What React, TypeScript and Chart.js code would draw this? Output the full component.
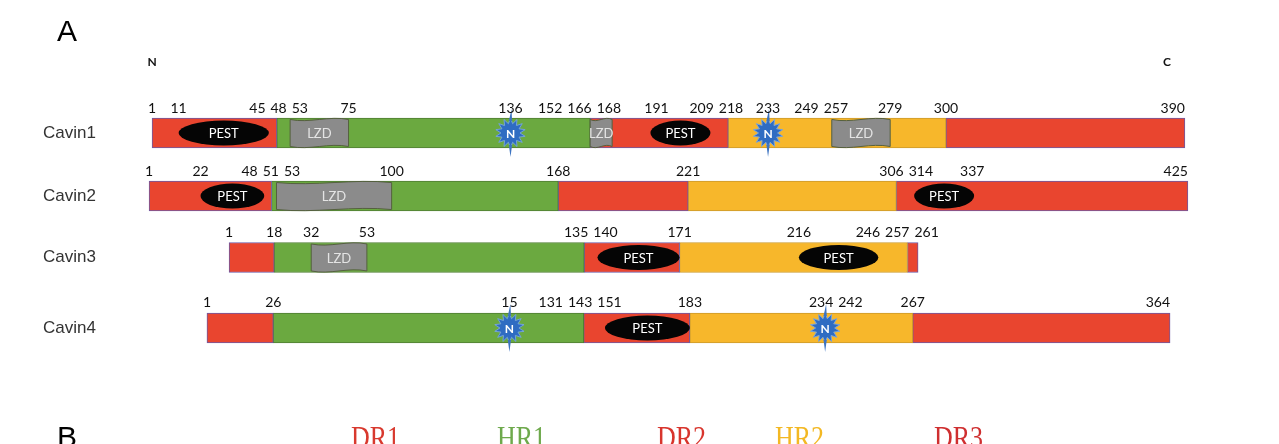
import { useEffect, useRef } from 'react';
import { Chart, registerables } from 'chart.js';

Chart.register(...registerables);

// ---- data -----------------------------------------------------------------

const proteins = ['Cavin1', 'Cavin2', 'Cavin3', 'Cavin4'];
const regionNames = ['DR1', 'HR1', 'DR2', 'HR2', 'DR3'];

// Region boundaries in residues: DR1 | HR1 | DR2 | HR2 | DR3
const cavin1Bounds = [1, 48, 166, 218, 300, 390];
const cavin2Bounds = [1, 51, 168, 221, 306, 425];
const cavin3Bounds = [1, 18, 135, 171, 257, 261];
const cavin4Bounds = [1, 26, 143, 183, 267, 364];

// PEST motifs [start, end]
const cavin1Pest = [[11, 45], [191, 209]];
const cavin2Pest = [[22, 48], [314, 337]];
const cavin3Pest = [[140, 171], [216, 246]];
const cavin4Pest = [[151, 183]];

// Leucine-zipper domains [start, end]
const cavin1Lzd = [[53, 75], [166, 168], [257, 279]];
const cavin2Lzd = [[53, 100]];
const cavin3Lzd = [[32, 53]];
const cavin4Lzd: number[][] = [];

// N-glycosylation sites
const cavin1NSites = [136, 233];
const cavin2NSites: number[] = [];
const cavin3NSites: number[] = [];
const cavin4NSites = [115, 234];

// Residue numbers printed above each bar
const cavin1Marks = [1, 11, 45, 48, 53, 75, 136, 152, 166, 168, 191, 209, 218, 233, 249, 257, 279, 300, 390];
const cavin2Marks = [1, 22, 48, 51, 53, 100, 168, 221, 306, 314, 337, 425];
const cavin3Marks = [1, 18, 32, 53, 135, 140, 171, 216, 246, 257, 261];
const cavin4Marks = [1, 26, 115, 131, 143, 151, 183, 234, 242, 267, 364];
const cavin4MarkText = ['1', '26', '15', '131', '143', '151', '183', '234', '242', '267', '364'];

// ---- layout & style -------------------------------------------------------

const ROW_Y = [0, 0.97, 1.915, 3];
const AXIS_BOUNDS = [
  [-17.1, 398.7],
  [-17.4, 433.2],
  [-46.2, 370.4],
  [-37.8, 378.3],
];
const BAR_H = 30;

const regionFill = ['#E9452F', '#6BA940', '#E9452F', '#F7B72B', '#E9452F'];
const regionEdge = ['#6C5AA6', '#4F7E33', '#6C5AA6', '#CC9A2C', '#6C5AA6'];
const legendColors = ['#D8392E', '#6EA94C', '#D8352D', '#F3B823', '#CF2F30'];
const LEGEND_X = [343, 489, 649, 767, 926];

const rows = [
  { bounds: cavin1Bounds, pest: cavin1Pest, lzd: cavin1Lzd, nSites: cavin1NSites, marks: cavin1Marks, text: null as string[] | null },
  { bounds: cavin2Bounds, pest: cavin2Pest, lzd: cavin2Lzd, nSites: cavin2NSites, marks: cavin2Marks, text: null as string[] | null },
  { bounds: cavin3Bounds, pest: cavin3Pest, lzd: cavin3Lzd, nSites: cavin3NSites, marks: cavin3Marks, text: null as string[] | null },
  { bounds: cavin4Bounds, pest: cavin4Pest, lzd: cavin4Lzd, nSites: cavin4NSites, marks: cavin4Marks, text: cavin4MarkText },
];

const datasets: any[] = [];
rows.forEach((row, r) => {
  for (let i = 0; i < row.bounds.length - 1; i++) {
    datasets.push({
      label: `${proteins[r]} ${regionNames[i]}`,
      data: [{ x: [row.bounds[i], row.bounds[i + 1]], y: ROW_Y[r] }],
      xAxisID: `x${r + 1}`,
      yAxisID: 'y',
      backgroundColor: regionFill[i],
      borderColor: regionEdge[i],
      borderWidth: 1,
      borderSkipped: false,
      barThickness: BAR_H,
      grouped: false,
    });
  }
});

// ---- drawing helpers ------------------------------------------------------

function spreadLabels(desired: number[], widths: number[], gap: number): number[] {
  type Cluster = { idx: number[]; sum: number; width: number };
  const clusters: Cluster[] = [];
  const left = (c: Cluster) => c.sum / c.idx.length - c.width / 2;
  desired.forEach((d, i) => {
    clusters.push({ idx: [i], sum: d, width: widths[i] });
    while (clusters.length > 1) {
      const b = clusters[clusters.length - 1];
      const a = clusters[clusters.length - 2];
      if (left(a) + a.width + gap <= left(b)) break;
      clusters.splice(clusters.length - 2, 2, {
        idx: a.idx.concat(b.idx),
        sum: a.sum + b.sum,
        width: a.width + gap + b.width,
      });
    }
  });
  const out: number[] = new Array(desired.length);
  clusters.forEach((c) => {
    let x = left(c);
    c.idx.forEach((i) => {
      out[i] = x + widths[i] / 2;
      x += widths[i] + gap;
    });
  });
  return out;
}

function wavyBox(ctx: CanvasRenderingContext2D, x0: number, x1: number, top: number, bottom: number) {
  const w = x1 - x0;
  const a = 2.5;
  ctx.beginPath();
  ctx.moveTo(x0, top);
  ctx.bezierCurveTo(x0 + w / 3, top + a * 1.6, x0 + (2 * w) / 3, top - a * 1.6, x1, top);
  ctx.lineTo(x1, bottom);
  ctx.bezierCurveTo(x0 + (2 * w) / 3, bottom - a * 1.6, x0 + w / 3, bottom + a * 1.6, x0, bottom);
  ctx.closePath();
  ctx.fillStyle = '#8B8B8B';
  ctx.fill();
  ctx.strokeStyle = '#55603F';
  ctx.lineWidth = 1;
  ctx.stroke();
}

function star(ctx: CanvasRenderingContext2D, cx: number, cy: number) {
  const spikes = 14;
  ctx.beginPath();
  for (let i = 0; i < spikes * 2; i++) {
    const rad = i % 2 === 0 ? 15 : 9.5;
    const ang = -Math.PI / 2 + (i * Math.PI) / spikes;
    const px = cx + Math.cos(ang) * rad;
    const py = cy + Math.sin(ang) * rad;
    if (i === 0) ctx.moveTo(px, py);
    else ctx.lineTo(px, py);
  }
  ctx.closePath();
  ctx.fillStyle = '#2F6CC2';
  ctx.fill();
  ctx.strokeStyle = 'rgba(120,165,225,0.9)';
  ctx.lineWidth = 1;
  ctx.stroke();
  // long top and bottom rays
  ctx.beginPath();
  ctx.moveTo(cx - 1.6, cy - 12);
  ctx.lineTo(cx + 1, cy - 24);
  ctx.lineTo(cx + 1.6, cy - 12);
  ctx.moveTo(cx - 1.6, cy + 12);
  ctx.lineTo(cx, cy + 24);
  ctx.lineTo(cx + 1.6, cy + 12);
  ctx.fillStyle = '#3D74C2';
  ctx.fill();
  ctx.fillStyle = '#FFFFFF';
  ctx.font = 'bold 12px Lato, "Open Sans", sans-serif';
  ctx.textAlign = 'center';
  ctx.textBaseline = 'middle';
  ctx.fillText('N', cx, cy + 1);
}

const annotations = {
  id: 'domainAnnotations',
  afterDatasetsDraw(chart: any) {
    const ctx: CanvasRenderingContext2D = chart.ctx;
    const yScale = chart.scales.y;
    ctx.save();

    rows.forEach((row, r) => {
      const xs = chart.scales[`x${r + 1}`];
      const cy = yScale.getPixelForValue(ROW_Y[r]);
      const top = cy - BAR_H / 2;
      const bottom = cy + BAR_H / 2;

      // leucine zippers
      row.lzd.forEach(([a, b]) => {
        const x0 = xs.getPixelForValue(a);
        const x1 = Math.max(xs.getPixelForValue(b), x0 + 22);
        wavyBox(ctx, x0, x1, top + 1.5, bottom - 1.5);
        ctx.fillStyle = '#E4E4E4';
        ctx.font = '13px Lato, "Open Sans", sans-serif';
        ctx.textAlign = 'center';
        ctx.textBaseline = 'middle';
        ctx.fillText('LZD', (x0 + x1) / 2, cy + 1);
      });

      // PEST motifs
      row.pest.forEach(([a, b]) => {
        const x0 = xs.getPixelForValue(a);
        const x1 = xs.getPixelForValue(b);
        const rx = Math.max((x1 - x0) / 2, 30);
        const cx = (x0 + x1) / 2;
        ctx.beginPath();
        ctx.ellipse(cx, cy, rx, 12.5, 0, 0, Math.PI * 2);
        ctx.fillStyle = '#050505';
        ctx.fill();
        ctx.fillStyle = '#FFFFFF';
        ctx.font = '13px Lato, "Open Sans", sans-serif';
        ctx.textAlign = 'center';
        ctx.textBaseline = 'middle';
        ctx.fillText('PEST', cx, cy + 1);
      });

      // N-glycosylation sites
      row.nSites.forEach((s) => star(ctx, xs.getPixelForValue(s), cy));

      // residue numbers
      ctx.font = '14px Lato, "Open Sans", sans-serif';
      const texts = row.marks.map((m, i) => (row.text ? row.text[i] : String(m)));
      const widths = texts.map((t) => ctx.measureText(t).width);
      const last = row.marks.length - 1;
      const desired = row.marks.map((m, i) => {
        const p = xs.getPixelForValue(m);
        return i === last ? p - widths[i] / 2 : p;
      });
      const centers = spreadLabels(desired, widths, 5);
      ctx.fillStyle = '#111111';
      ctx.textAlign = 'center';
      ctx.textBaseline = 'middle';
      texts.forEach((t, i) => ctx.fillText(t, centers[i], top - 10));

      // terminus markers over the first protein
      if (r === 0) {
        ctx.font = 'bold 12px Lato, "Open Sans", sans-serif';
        ctx.fillText('N', xs.getPixelForValue(row.bounds[0]), top - 56);
        ctx.fillText('C', xs.getPixelForValue(row.bounds[row.bounds.length - 1]) - 18, top - 56);
      }
    });

    // panel letters
    ctx.fillStyle = '#000000';
    ctx.font = '30px "Liberation Sans", Arial, sans-serif';
    ctx.textAlign = 'left';
    ctx.textBaseline = 'alphabetic';
    ctx.fillText('A', 49, 33);
    ctx.fillText('B', 49, 439);

    // region key
    ctx.font = '26px "Liberation Serif", "Times New Roman", serif';
    regionNames.forEach((name, i) => {
      ctx.save();
      ctx.translate(LEGEND_X[i], 440);
      ctx.scale(1, 1.25);
      ctx.fillStyle = legendColors[i];
      ctx.fillText(name, 0, 0);
      ctx.restore();
    });

    ctx.restore();
  },
};

const xAxes: Record<string, any> = {};
AXIS_BOUNDS.forEach(([min, max], r) => {
  xAxes[`x${r + 1}`] = { type: 'linear', axis: 'x', position: 'bottom', min, max, offset: false, display: false };
});

export default function App() {
  const canvasRef = useRef<HTMLCanvasElement>(null);

  useEffect(() => {
    const canvas = canvasRef.current;
    if (!canvas) return;
    const chart = new Chart(canvas, {
      type: 'bar',
      data: { datasets },
      options: {
        indexAxis: 'y',
        animation: false,
        responsive: true,
        maintainAspectRatio: false,
        layout: { padding: { left: 0, right: 63, top: 0, bottom: 0 } },
        plugins: { legend: { display: false }, tooltip: { enabled: false } },
        events: [],
        scales: {
          ...xAxes,
          y: {
            type: 'linear',
            reverse: true,
            offset: false,
            min: -1.923,
            max: 4.785,
            afterBuildTicks: (scale: any) => {
              scale.ticks = ROW_Y.map((v) => ({ value: v }));
            },
            afterFit: (scale: any) => {
              scale.width = 96;
              scale.paddingTop = 0;
              scale.paddingBottom = 0;
            },
            ticks: {
              autoSkip: false,
              callback: (_v: any, i: number) => proteins[i],
              color: '#333333',
              font: { family: '"Liberation Sans", Arial, sans-serif', size: 17 },
              padding: 8,
            },
            grid: { display: false, drawTicks: false, offset: false },
            border: { display: false },
          },
        },
      } as any,
      plugins: [annotations],
    });
    return () => chart.destroy();
  }, []);

  return (
    <div style={{ position: 'relative', width: '1263px', height: '436px' }}>
      <canvas ref={canvasRef} />
    </div>
  );
}
